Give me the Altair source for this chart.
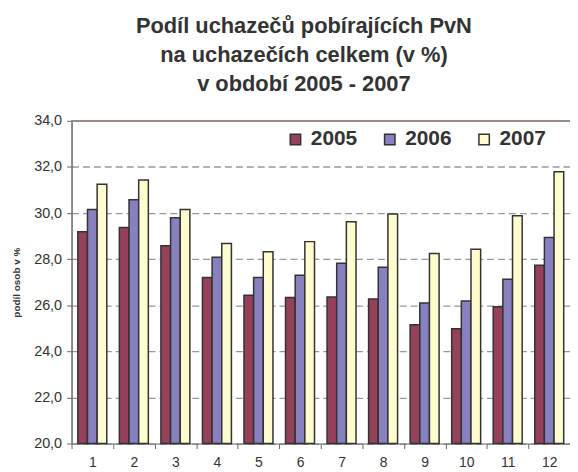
import altair as alt
import pandas as pd

months = [str(i) for i in range(1, 13)]
years = ["2005", "2006", "2007"]
v2005 = [29.19, 29.37, 28.58, 27.20, 26.43, 26.34, 26.36, 26.27, 25.15, 24.98, 25.93, 27.74]
v2006 = [30.15, 30.58, 29.80, 28.08, 27.20, 27.30, 27.82, 27.65, 26.10, 26.18, 27.13, 28.94]
v2007 = [31.25, 31.43, 30.15, 28.68, 28.32, 28.76, 29.62, 29.96, 28.24, 28.43, 29.88, 31.79]
colors = ["#96415A", "#8781C0", "#FFFDD0"]
y_ticks = [20, 22, 24, 26, 28, 30, 32, 34]
title_lines = ["Podíl uchazečů pobírajících PvN", "na uchazečích celkem (v %)", "v období 2005 - 2007"]

rows = []
for y, vals in zip(years, [v2005, v2006, v2007]):
    for m, v in zip(months, vals):
        rows.append({"month": m, "year": y, "value": v})
df = pd.DataFrame(rows)

W, H = 502, 325

bars = alt.Chart(df).mark_bar(stroke="#333333", strokeWidth=1.5).encode(
    x=alt.X("month:N", sort=months,
            scale=alt.Scale(paddingInner=0, paddingOuter=0),
            axis=alt.Axis(title=None, labelAngle=0, tickBand="extent", grid=False,
                          domainColor="#666666", tickColor="#666666", tickSize=5,
                          labelFontSize=14, labelColor="#333333", labelPadding=7)),
    xOffset=alt.XOffset("year:N", sort=years, scale=alt.Scale(paddingInner=0, paddingOuter=0.65)),
    y=alt.Y("value:Q", scale=alt.Scale(domain=[20, 34], nice=False, zero=False),
            axis=alt.Axis(values=y_ticks, labelExpr="replace(format(datum.value, '.1f'), '.', ',')",
                          grid=True, gridDash=[7, 4], gridColor="#999999", gridWidth=1.3,
                          domainColor="#6b6463", domainWidth=1.5, tickColor="#666666", tickSize=5,
                          labelFontSize=14.5, labelColor="#333333", labelPadding=5,
                          title="podíl osob v %", titleFontSize=10, titleFontWeight="bold",
                          titleColor="#333333", titleX=-50, titleY=H / 2)),
    y2=alt.datum(20),
    color=alt.Color("year:N", sort=years, scale=alt.Scale(domain=years, range=colors),
                    legend=alt.Legend(title=None, orient="none", direction="horizontal",
                                      legendX=215, legendY=8, symbolType="square",
                                      symbolSize=110, symbolStrokeColor="#333333",
                                      symbolStrokeWidth=1.5, labelFontSize=21,
                                      labelFontWeight="bold", labelColor="#333333",
                                      labelOffset=5, columnPadding=22)),
)

top = alt.Chart(df).mark_rule(color="#9b8a87", strokeWidth=1.5).encode(y=alt.datum(34))

chart = alt.layer(bars, top).properties(
    width=W, height=H,
    autosize=alt.AutoSizeParams(type="none"),
    padding={"left": 64, "top": 112, "right": 0, "bottom": 26},
    title=alt.TitleParams(text=title_lines, fontSize=22, fontWeight="bold", color="#333333",
                          lineHeight=29, anchor="middle", frame="group", dx=-17, offset=17),
).configure(font="Liberation Sans").configure_view(stroke=None)

chart.save("out.html", embed_options={"renderer": "svg", "actions": False})
